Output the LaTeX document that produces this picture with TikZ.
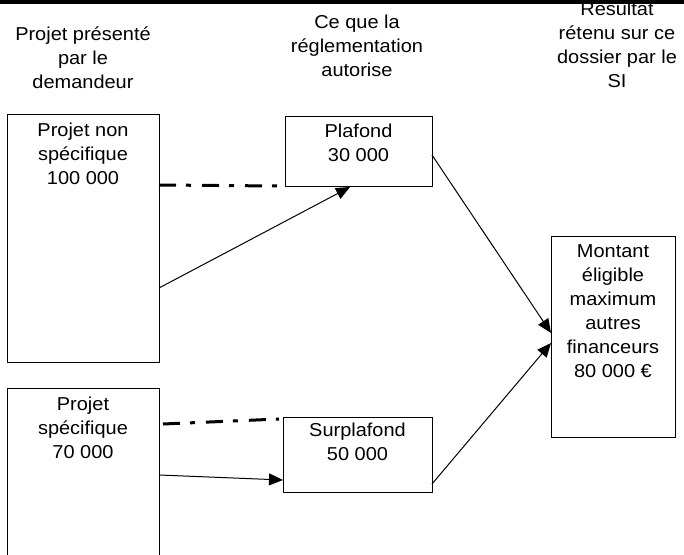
\documentclass[tikz,border=0pt]{standalone}
\usepackage{fontspec}
\setmainfont[FakeStretch=1.07]{Liberation Sans}
\usetikzlibrary{arrows.meta}
\begin{document}
\begin{tikzpicture}[x=0.75pt,y=-0.75pt,
  box/.style={draw, fill=white, line width=0.75pt, inner sep=0pt, outer sep=0pt, anchor=north west},
  txt/.style={anchor=north, inner sep=0pt, align=center, font=\fontsize{14pt}{18pt}\selectfont},
  link/.style={line width=0.75pt, -{Triangle[length=10.5pt,width=9pt]}},
  dashdot/.style={line width=2.25pt, dash pattern=on 12.75pt off 7.5pt on 3.75pt off 8.25pt}]
\useasboundingbox (0,0) rectangle (684,555);
\clip (0,0) rectangle (684,555);

% column headings
\node[txt] (h1) at (83,26) {Projet présenté\\par le\\demandeur};
\node[txt] (h2) at (357,14.5) {Ce que la\\réglementation\\autorise};
\node[txt] (h3) at (617,1.5) {Résultat\\rétenu sur ce\\dossier par le\\SI};

% top rule
\fill (0,0) rectangle (684,4);

% boxes
\node[box, minimum width=114pt, minimum height=185.25pt] (b1) at (7,115) {};
\node[box, minimum width=114pt, minimum height=165pt] (b2) at (7,388) {};
\node[box, minimum width=110.25pt, minimum height=52.5pt] (pl) at (285,117) {};
\node[box, minimum width=111.75pt, minimum height=56.25pt] (sp) at (283,417) {};
\node[box, minimum width=93pt, minimum height=150pt] (mo) at (551,237) {};

% box texts
\node[txt] (b1t) at (83,122.8) {Projet non\\spécifique\\100 000};
\node[txt] (b2t) at (83,396.8) {Projet\\spécifique\\70 000};
\node[txt] (plt) at (358.5,123.8) {Plafond\\30 000};
\node[txt] (spt) at (357.5,422.8) {Surplafond\\50 000};
\node[txt] (mot) at (613,244.8) {Montant\\éligible\\maximum\\autres\\financeurs\\80 000 €};

% dash-dot links
\coordinate (d1) at (277,186);
\coordinate (d2) at (279,419);
\draw[dashdot] ([yshift=-52.5pt]b1.north east) -- (d1);
\draw[dashdot] ([xshift=3pt,yshift=-27pt]b2.north east) -- (d2);

% arrows
\draw[link] ([yshift=-37.125pt]b1.east) -- ([xshift=-6.375pt]pl.south);
\draw[link] ([yshift=-65.25pt]b2.north east) -- ([yshift=-47.25pt]sp.north west);
\draw[link] ([yshift=-2.25pt]pl.east) -- ([yshift=-72pt]mo.north west);
\draw[link] ([yshift=-50.25pt]sp.north east) -- ([yshift=-79.5pt]mo.north west);
\end{tikzpicture}
\end{document}
